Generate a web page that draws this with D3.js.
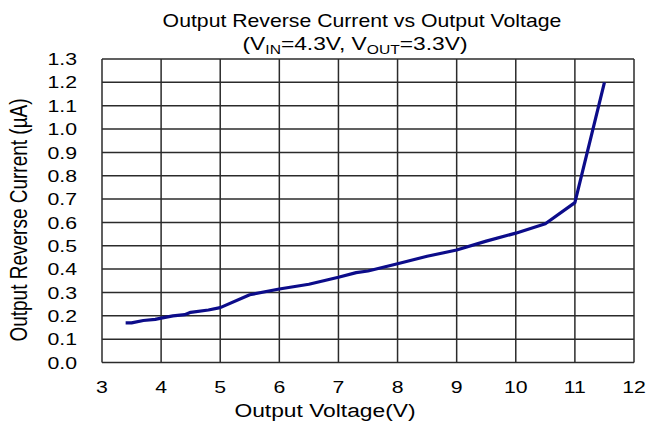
<!DOCTYPE html>
<html>
<head>
<meta charset="utf-8">
<script src="https://cdn.jsdelivr.net/npm/d3@7"></script>
<style>
  body { margin: 0; background: #fff; }
  text { font-family: "Liberation Sans", Arial, sans-serif; fill: #000; }
</style>
</head>
<body>
<svg id="chart" width="647" height="427"></svg>
<script>
// output voltage (V) and reverse current (uA)
const voltage = [3.4, 3.5, 3.7, 3.9, 4.0, 4.2, 4.4, 4.5, 4.8, 5.0, 5.5, 6.0, 6.5, 7.0, 7.3, 7.5, 8.0, 8.5, 9.0, 9.5, 10.0, 10.5, 11.0, 11.5];
const current = [0.17, 0.17, 0.18, 0.185, 0.19, 0.2, 0.205, 0.215, 0.225, 0.235, 0.29, 0.315, 0.335, 0.365, 0.385, 0.392, 0.423, 0.455, 0.482, 0.52, 0.554, 0.594, 0.685, 1.2];
const xTicks = [3, 4, 5, 6, 7, 8, 9, 10, 11, 12];
const yTicks = [0, 0.1, 0.2, 0.3, 0.4, 0.5, 0.6, 0.7, 0.8, 0.9, 1.0, 1.1, 1.2, 1.3];

const svg = d3.select("#chart");
const margin = { top: 59, right: 13, bottom: 65, left: 102 };
const width = 647, height = 427;
// the source picture is stretched sideways, so text is widened a bit
const stretch = 1.25;

const x = d3.scaleLinear().domain([3, 12]).range([margin.left, width - margin.right]);
const y = d3.scaleLinear().domain([0, 1.3]).range([height - margin.bottom + 0.5, margin.top]);

// grid
const grid = svg.append("g").attr("stroke", "#2b2b2b").attr("stroke-width", 1.5);
grid.selectAll(".vx")
  .data(xTicks)
  .enter()
  .append("line")
  .attr("x1", d => x(d)).attr("x2", d => x(d))
  .attr("y1", y(0)).attr("y2", y(1.3));
grid.selectAll(".hy")
  .data(yTicks)
  .enter()
  .append("line")
  .attr("y1", d => y(d)).attr("y2", d => y(d))
  .attr("x1", x(3)).attr("x2", x(12));

// tick labels
svg.append("g")
  .selectAll("text")
  .data(yTicks)
  .enter()
  .append("text")
  .attr("transform", d => `translate(77,${y(d)}) scale(${stretch},1)`)
  .attr("dy", "0.36em")
  .attr("text-anchor", "end")
  .style("font-size", "17px")
  .text(d => d.toFixed(1));

svg.append("g")
  .selectAll("text")
  .data(xTicks)
  .enter()
  .append("text")
  .attr("transform", d => `translate(${x(d)},393) scale(${stretch},1)`)
  .attr("text-anchor", "middle")
  .style("font-size", "17px")
  .text(d => d);

// curve
const line = d3.line()
  .x((d, i) => x(voltage[i]))
  .y(d => y(d));
svg.append("path")
  .datum(current)
  .attr("fill", "none")
  .attr("stroke", "#0c0c8a")
  .attr("stroke-width", 3.2)
  .attr("stroke-linejoin", "round")
  .attr("d", line);

// titles
svg.append("text")
  .attr("transform", `translate(362,27) scale(1.18,1)`)
  .attr("text-anchor", "middle")
  .style("font-size", "18px")
  .text("Output Reverse Current vs Output Voltage");

const sub = svg.append("text")
  .attr("transform", `translate(355,50) scale(1.2,1)`)
  .attr("text-anchor", "middle")
  .style("font-size", "19px");
sub.append("tspan").text("(V");
sub.append("tspan").attr("dy", 4).style("font-size", "13px").text("IN");
sub.append("tspan").attr("dy", -4).text("=4.3V, V");
sub.append("tspan").attr("dy", 4).style("font-size", "13px").text("OUT");
sub.append("tspan").attr("dy", -4).text("=3.3V)");

svg.append("text")
  .attr("transform", `translate(325,417) scale(1.2,1)`)
  .attr("text-anchor", "middle")
  .style("font-size", "19px")
  .text("Output Voltage(V)");

svg.append("text")
  .attr("transform", `translate(27,220) rotate(-90) scale(1,${stretch})`)
  .attr("text-anchor", "middle")
  .style("font-size", "19px")
  .text("Output Reverse Current (\u00b5A)");
</script>
</body>
</html>
